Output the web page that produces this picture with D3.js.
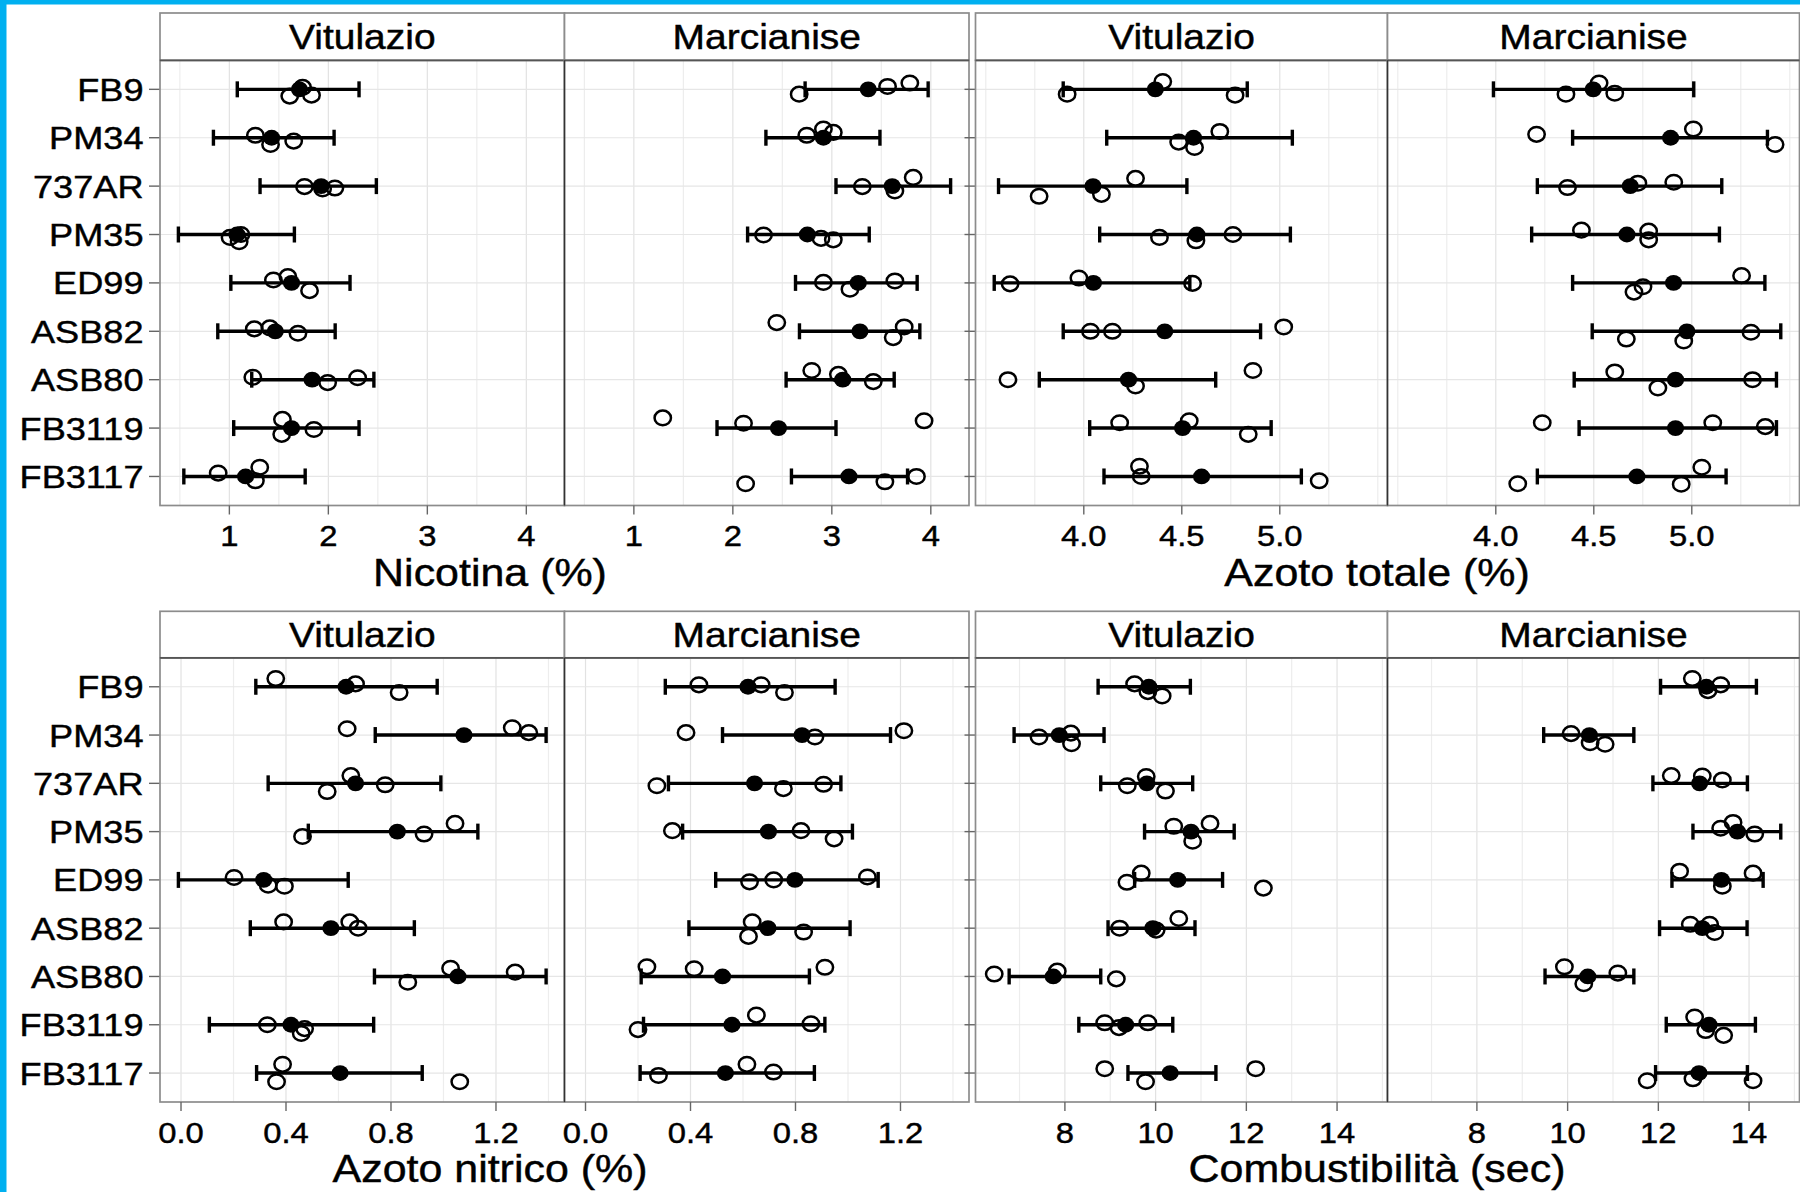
<!DOCTYPE html>
<html><head><meta charset="utf-8">
<script src="https://cdn.jsdelivr.net/npm/d3@7"></script>
<style>body{margin:0;background:#fff} svg{display:block}</style>
</head><body>
<svg id="c" width="1800" height="1192"></svg>
<script>
// ---------------- DATA ----------------
const varieties = ["FB9","PM34","737AR","PM35","ED99","ASB82","ASB80","FB3119","FB3117"];
const sites = ["Vitulazio","Marcianise"];

const nicTicks = [1,2,3,4];
const nicGrid = [0.5,1,1.5,2,2.5,3,3.5,4];
const azTotTicks = [4.0,4.5,5.0];
const azTotGrid = [3.5,3.75,4.0,4.25,4.5,4.75,5.0,5.25,5.5];
const azNitTicks = [0.0,0.4,0.8,1.2];
const azNitGrid = [0,0.2,0.4,0.6,0.8,1.0,1.2,1.4];
const combTicks = [8,10,12,14];
const combGrid = [7,8,9,10,11,12,13,14,15];

// Nicotina (%)
const nicVitMean = [1.708,1.427,1.927,1.077,1.628,1.464,1.836,1.628,1.164];
const nicVitLo   = [1.08,0.839,1.31,0.485,1.015,0.883,1.226,1.044,0.54];
const nicVitHi   = [2.31,2.058,2.485,1.657,2.219,2.069,2.46,2.31,1.766];
const nicVitReps = [[1.74,1.61,1.83],[1.263,1.416,1.65],[1.759,1.942,2.066],[1.007,1.099,1.117],[1.445,1.591,1.81],[1.252,1.409,1.693],[1.237,1.993,2.296],[1.536,1.529,1.854],[0.887,1.307,1.263]];
const nicVitJit  = [[-0.04,0.14,0.12],[-0.05,0.14,0.07],[0.01,0.06,0.04],[0.06,0.15,0.0],[-0.06,-0.13,0.16],[-0.05,-0.07,0.04],[-0.05,0.06,-0.04],[-0.18,0.13,0.03],[-0.07,-0.19,0.09]];

const nicMarMean = [3.368,2.915,3.61,2.753,3.267,3.284,3.11,2.461,3.173];
const nicMarLo   = [2.73,2.334,3.042,2.149,2.633,2.673,2.538,1.84,2.592];
const nicMarHi   = [3.973,3.486,4.2,3.378,3.862,3.889,3.63,3.042,3.765];
const nicMarReps = [[3.563,3.788,2.67],[2.747,2.915,3.015],[3.308,3.637,3.822],[2.31,2.891,3.015],[2.915,3.637,3.183],[2.444,3.731,3.62],[2.797,3.066,3.419],[1.292,2.108,3.932],[2.129,3.536,3.855]];
const nicMarJit  = [[-0.06,-0.13,0.10],[-0.05,-0.18,-0.11],[0.01,0.10,-0.18],[0.01,0.08,0.11],[-0.01,-0.04,0.13],[-0.18,-0.09,0.13],[-0.19,-0.11,0.04],[-0.21,-0.10,-0.15],[0.15,0.11,0.0]];

// Azoto totale (%)
const azTotVitMean = [4.365,4.56,4.047,4.577,4.049,4.413,4.228,4.504,4.601];
const azTotVitLo   = [3.895,4.117,3.565,4.081,3.543,3.895,3.773,4.03,4.103];
const azTotVitHi   = [4.834,5.064,4.526,5.054,4.541,4.902,4.673,4.956,5.11];
const azTotVitReps = [[4.403,3.915,4.772],[4.694,4.484,4.565],[4.264,3.772,4.09],[4.386,4.572,4.761],[3.624,3.975,4.555],[4.034,4.146,5.02],[3.613,4.264,4.863],[4.183,4.538,4.839],[4.284,4.293,5.201]];
const azTotVitJit  = [[-0.16,0.10,0.12],[-0.13,0.09,0.20],[-0.16,0.21,0.17],[0.06,0.13,0.0],[0.02,-0.10,0.01],[0.0,0.0,-0.09],[0.0,0.13,-0.19],[-0.11,-0.15,0.13],[-0.21,0.0,0.09]];

const azTotMarMean = [4.497,4.892,4.686,4.669,4.907,4.975,4.917,4.917,4.72];
const azTotMarLo   = [3.988,4.392,4.212,4.183,4.392,4.492,4.4,4.425,4.212];
const azTotMarHi   = [5.01,5.386,5.153,5.141,5.373,5.454,5.432,5.432,5.175];
const azTotMarReps = [[4.527,4.358,4.607],[4.208,5.008,5.425],[4.366,4.725,4.908],[4.437,4.78,4.78],[5.254,4.751,4.705],[5.302,4.666,4.959],[4.607,5.31,4.827],[4.237,5.107,5.375],[4.112,5.051,4.946]];
const azTotMarJit  = [[-0.13,0.10,0.08],[-0.07,-0.18,0.14],[0.03,-0.06,-0.08],[-0.09,-0.07,0.11],[-0.15,0.08,0.19],[0.02,0.16,0.20],[-0.16,0.0,0.17],[-0.11,-0.11,-0.03],[0.15,-0.19,0.16]];

// Azoto nitrico (%)
const azNitVitMean = [0.629,1.078,0.665,0.824,0.315,0.571,1.055,0.419,0.606];
const azNitVitLo   = [0.285,0.74,0.332,0.485,-0.01,0.264,0.737,0.108,0.288];
const azNitVitHi   = [0.976,1.391,0.99,1.131,0.637,0.889,1.391,0.734,0.919];
const azNitVitReps = [[0.361,0.665,0.831],[0.633,1.262,1.325],[0.647,0.557,0.778],[1.044,0.463,0.926],[0.202,0.332,0.394],[0.391,0.643,0.675],[1.027,1.273,0.864],[0.329,0.471,0.458],[0.387,0.364,1.062]];
const azNitVitJit  = [[-0.17,-0.06,0.12],[-0.13,-0.15,-0.05],[-0.16,0.17,0.03],[-0.17,0.10,0.05],[-0.05,0.11,0.13],[-0.13,-0.13,0.0],[-0.17,-0.09,0.12],[0.0,0.08,0.18],[-0.18,0.18,0.18]];

const azNitMarMean = [0.619,0.825,0.644,0.697,0.798,0.695,0.522,0.558,0.533];
const azNitMarLo   = [0.304,0.522,0.316,0.37,0.496,0.394,0.212,0.221,0.208];
const azNitMarHi   = [0.951,1.162,0.973,1.017,1.115,1.008,0.853,0.912,0.872];
const azNitMarReps = [[0.432,0.669,0.758],[0.383,0.874,1.213],[0.272,0.754,0.907],[0.331,0.821,0.947],[0.625,0.717,1.074],[0.635,0.621,0.831],[0.234,0.414,0.912],[0.2,0.651,0.859],[0.278,0.615,0.716]];
const azNitMarJit  = [[-0.04,-0.04,0.12],[-0.05,0.04,-0.09],[0.05,0.11,0.02],[-0.02,-0.02,0.15],[0.04,0.0,-0.06],[-0.13,0.17,0.08],[-0.2,-0.16,-0.19],[0.10,-0.2,-0.02],[0.05,-0.18,-0.02]];

// Combustibilità (sec)
const combVitMean = [9.851,7.876,9.807,10.78,10.488,9.939,7.744,9.339,10.32];
const combVitLo   = [8.732,6.88,8.79,9.756,9.537,8.951,6.771,8.307,9.39];
const combVitHi   = [10.766,8.863,10.817,11.732,11.476,10.868,8.79,10.378,11.329];
const combVitReps = [[9.537,9.829,10.144],[7.429,8.132,8.146],[9.793,9.376,10.217],[10.4,11.2,10.817],[9.683,9.368,12.376],[10.51,9.207,10.012],[6.442,7.832,9.134],[8.878,9.193,9.829],[8.878,12.207,9.778]];
const combVitJit  = [[-0.06,0.10,0.19],[0.04,-0.04,0.18],[-0.14,0.05,0.16],[-0.11,-0.17,0.20],[-0.14,0.05,0.17],[-0.2,0.0,0.04],[-0.05,-0.11,0.05],[-0.04,0.06,-0.04],[-0.09,-0.09,0.18]];

const combMarMean = [13.058,10.481,12.91,13.742,13.389,12.969,10.444,13.117,12.896];
const combMarLo   = [12.049,9.472,11.88,12.763,12.3,12.027,9.502,12.174,11.939];
const combMarHi   = [14.162,11.46,13.963,14.699,14.31,13.956,11.46,14.14,13.963];
const combMarReps = [[12.749,13.374,13.095],[10.076,10.496,10.827],[12.285,12.969,13.411],[13.647,13.374,14.125],[12.469,14.088,13.411],[12.704,13.131,13.242],[9.929,11.107,10.356],[12.8,13.043,13.44],[11.755,12.763,14.088]];
const combMarJit  = [[-0.17,-0.04,0.08],[-0.03,0.16,0.19],[-0.16,-0.15,-0.07],[-0.19,-0.07,0.05],[-0.18,-0.14,0.13],[-0.08,-0.08,0.09],[-0.2,-0.07,0.15],[-0.16,0.12,0.22],[0.16,0.12,0.16]];

// ---------------- DRAWING ----------------
const svg = d3.select("#c");
svg.append("rect").attr("width",1800).attr("height",1192).attr("fill","#fff");

const FONT = "'Liberation Sans', Arial, Helvetica, sans-serif";
const SX = 1.13;
function txt(g, x, y, s, size, anchor) {
  g.append("text")
    .attr("transform", `translate(${x},${y}) scale(${SX},1)`)
    .attr("text-anchor", anchor)
    .attr("font-size", size)
    .attr("font-family", FONT)
    .attr("fill", "#000")
    .attr("stroke", "#000")
    .attr("stroke-width", 0.45)
    .text(s);
}

const plots = [
  {title:"Nicotina (%)", ticks:nicTicks, grid:nicGrid, fmt:d3.format("d"),
   sets:[[nicVitMean,nicVitLo,nicVitHi,nicVitReps,nicVitJit],[nicMarMean,nicMarLo,nicMarHi,nicMarReps,nicMarJit]],
   xs:[160,564.5,969], rowY:[13,60.3,505.5], titleX:490, ylab:true, tickX:[149,160]},
  {title:"Azoto totale (%)", ticks:azTotTicks, grid:azTotGrid, fmt:d3.format(".1f"),
   sets:[[azTotVitMean,azTotVitLo,azTotVitHi,azTotVitReps,azTotVitJit],[azTotMarMean,azTotMarLo,azTotMarHi,azTotMarReps,azTotMarJit]],
   xs:[975.5,1387.5,1799.5], rowY:[13,60.3,505.5], titleX:1377, ylab:false, tickX:[964.5,975.5]},
  {title:"Azoto nitrico (%)", ticks:azNitTicks, grid:azNitGrid, fmt:d3.format(".1f"),
   sets:[[azNitVitMean,azNitVitLo,azNitVitHi,azNitVitReps,azNitVitJit],[azNitMarMean,azNitMarLo,azNitMarHi,azNitMarReps,azNitMarJit]],
   xs:[160,564.5,969], rowY:[611.3,657.8,1102], titleX:490, ylab:true, tickX:[149,160]},
  {title:"Combustibilità (sec)", ticks:combTicks, grid:combGrid, fmt:d3.format("d"),
   sets:[[combVitMean,combVitLo,combVitHi,combVitReps,combVitJit],[combMarMean,combMarLo,combMarHi,combMarReps,combMarJit]],
   xs:[975.5,1387.5,1799.5], rowY:[611.3,657.8,1102], titleX:1377, ylab:false, tickX:[964.5,975.5]}
];

plots.forEach(p => {
  // data extent with 5% expansion (ggplot-like)
  const all = [];
  p.sets.forEach(s => { all.push(...s[1], ...s[2]); s[3].forEach(r => all.push(...r)); });
  const [mn, mx] = d3.extent(all);
  const pad = (mx - mn) * 0.05;
  const dom = [mn - pad, mx + pad];
  const [stripTop, panelTop, panelBot] = p.rowY;
  const y = d3.scalePoint().domain(varieties).range([panelTop, panelBot]).padding(0.6);
  const step = y.step();
  const g = svg.append("g");

  // y-axis ticks & labels (outside first panel)
  varieties.forEach(v => {
    g.append("line").attr("x1",p.tickX[0]).attr("x2",p.tickX[1]).attr("y1",y(v)).attr("y2",y(v))
      .attr("stroke","#666").attr("stroke-width",1.4);
    if (p.ylab) txt(g, 143.5, y(v) + 11.5, v, 32, "end");
  });

  p.sets.forEach((s, si) => {
    const x0 = p.xs[si], x1 = p.xs[si+1];
    const x = d3.scaleLinear().domain(dom).range([x0, x1]);
    const [mean, lo, hi, reps, jit] = s;
    const pg = g.append("g");
    pg.append("rect").attr("x",x0).attr("y",panelTop).attr("width",x1-x0).attr("height",panelBot-panelTop).attr("fill","#fff");
    // grid
    p.grid.forEach(t => {
      const major = p.ticks.some(k => Math.abs(k - t) < 1e-9);
      pg.append("line").attr("x1",x(t)).attr("x2",x(t)).attr("y1",panelTop).attr("y2",panelBot)
        .attr("stroke", major ? "#e2e2e2" : "#ededed").attr("stroke-width",1.2);
    });
    varieties.forEach(v => {
      pg.append("line").attr("x1",x0).attr("x2",x1).attr("y1",y(v)).attr("y2",y(v))
        .attr("stroke","#e6e6e6").attr("stroke-width",1.2);
    });
    // error bars
    varieties.forEach((v, i) => {
      const yy = y(v);
      pg.append("line").attr("x1",x(lo[i])).attr("x2",x(hi[i])).attr("y1",yy).attr("y2",yy)
        .attr("stroke","#000").attr("stroke-width",3.4);
      [lo[i], hi[i]].forEach(e => {
        pg.append("line").attr("x1",x(e)).attr("x2",x(e)).attr("y1",yy-8).attr("y2",yy+8)
          .attr("stroke","#000").attr("stroke-width",3.4);
      });
    });
    // replicate points (open)
    varieties.forEach((v, i) => {
      reps[i].forEach((r, k) => {
        pg.append("ellipse").attr("cx",x(r)).attr("cy",y(v) + jit[i][k]*step)
          .attr("rx",8.2).attr("ry",7.3).attr("fill","none").attr("stroke","#000").attr("stroke-width",2.5);
      });
    });
    // means (filled)
    varieties.forEach((v, i) => {
      pg.append("ellipse").attr("cx",x(mean[i])).attr("cy",y(v)).attr("rx",8.6).attr("ry",7.9).attr("fill","#000");
    });
    // panel border
    pg.append("rect").attr("x",x0).attr("y",panelTop).attr("width",x1-x0).attr("height",panelBot-panelTop)
      .attr("fill","none").attr("stroke","#8c8c8c").attr("stroke-width",1.7);
    // strip
    pg.append("rect").attr("x",x0).attr("y",stripTop).attr("width",x1-x0).attr("height",panelTop-stripTop)
      .attr("fill","#fff").attr("stroke","#8c8c8c").attr("stroke-width",1.7);
    pg.append("line").attr("x1",x0).attr("x2",x1).attr("y1",panelTop).attr("y2",panelTop)
      .attr("stroke","#555").attr("stroke-width",1.7);
    txt(pg, (x0+x1)/2, (stripTop+panelTop)/2 + 12.5, sites[si], 34.5, "middle");
    // x ticks
    p.ticks.forEach(t => {
      pg.append("line").attr("x1",x(t)).attr("x2",x(t)).attr("y1",panelBot).attr("y2",panelBot+9)
        .attr("stroke","#666").attr("stroke-width",1.4);
      txt(pg, x(t), panelBot + 40.5, p.fmt(t), 29, "middle");
    });
  });
  // dark separator between facets
  g.append("line").attr("x1",p.xs[1]).attr("x2",p.xs[1]).attr("y1",panelTop).attr("y2",panelBot)
    .attr("stroke","#333").attr("stroke-width",1.4);
  // axis title
  txt(g, p.titleX, panelBot + 80, p.title, 38, "middle");
});

// blue slide border
svg.append("rect").attr("x",0).attr("y",0).attr("width",1800).attr("height",4.5).attr("fill","#00B0F0");
svg.append("rect").attr("x",0).attr("y",0).attr("width",6.5).attr("height",1192).attr("fill","#00B0F0");
</script>
</body></html>
